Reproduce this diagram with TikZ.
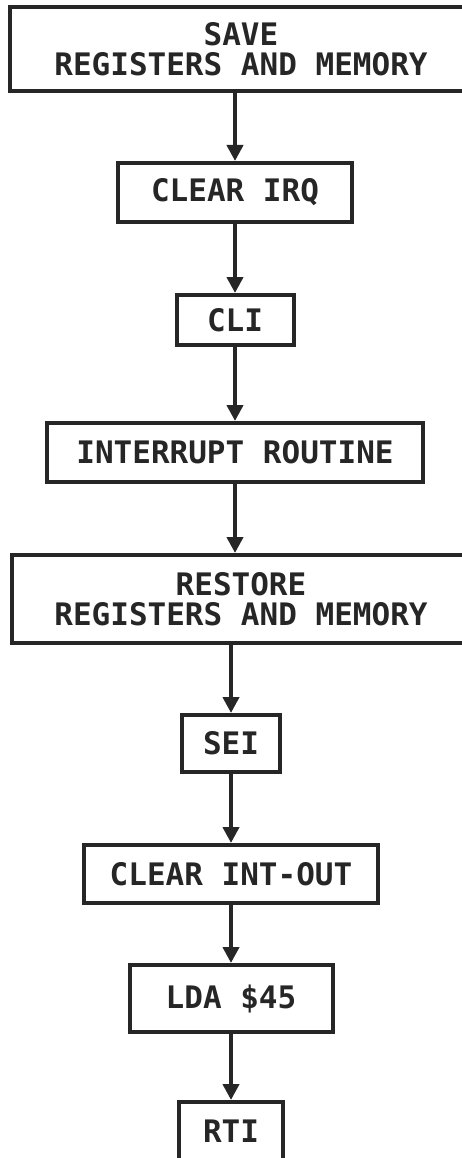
\documentclass[tikz,border=0pt]{standalone}
\usepackage{fontspec}
\newfontfamily\rotulo{DejaVu Sans Mono Bold}
\usepackage{tikz}
\usetikzlibrary{arrows.meta,positioning}
\tikzset{
  caja/.style={rectangle, draw=black!85, line width=4pt, fill=white,
               minimum height=59pt, inner sep=0pt, align=center,
               text=black!85, font=\rotulo\fontsize{31}{30}\selectfont},
  flecha/.style={-{Triangle[length=16pt,width=16pt]}, line width=4pt, draw=black!85}
}
\begin{document}
\begin{tikzpicture}[x=1pt, y=1pt, node distance=69pt]
  \useasboundingbox (0,0) rectangle (462,-1158);
  \node[caja, minimum width=462pt, minimum height=84pt] (save) at (241,-49) {SAVE\\REGISTERS AND MEMORY};
  \node[caja, minimum width=234pt, below=68pt of save, xshift=-6pt] (irq) {CLEAR IRQ};
  \node[caja, minimum width=117pt, minimum height=50pt, below=of irq] (cli) {CLI};
  \node[caja, minimum width=376pt, below=74pt of cli] (intr) {INTERRUPT ROUTINE};
  \node[caja, minimum width=458pt, minimum height=88pt, below=of intr, xshift=6pt] (restore) {RESTORE\\REGISTERS AND MEMORY};
  \node[caja, minimum width=98pt, minimum height=57pt, below=68pt of restore, xshift=-10pt] (sei) {SEI};
  \node[caja, minimum width=294pt, minimum height=58pt, below=of sei] (intout) {CLEAR INT-OUT};
  \node[caja, minimum width=203pt, minimum height=67pt, below=58pt of intout] (lda) {LDA \$45};
  \node[caja, minimum width=104pt, minimum height=58pt, below=66pt of lda] (rti) {RTI};
  % conectores
  \draw[flecha] (save.south -| irq) -- (irq);
  \draw[flecha] (irq) -- (cli);
  \draw[flecha] (cli) -- (intr);
  \draw[flecha] (intr) -- (intr |- restore.north);
  \draw[flecha] (restore.south -| sei) -- (sei);
  \draw[flecha] (sei) -- (intout);
  \draw[flecha] (intout) -- (lda);
  \draw[flecha] (lda) -- (rti);
\end{tikzpicture}
\end{document}
